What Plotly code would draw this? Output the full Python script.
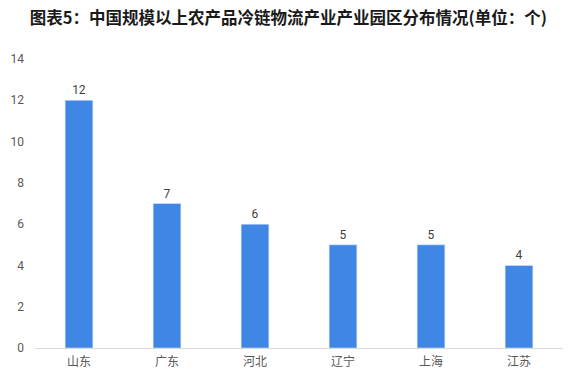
import plotly.graph_objects as go

categories = ["山东", "广东", "河北", "辽宁", "上海", "江苏"]
values = [12, 7, 6, 5, 5, 4]
title_text = "图表5：中国规模以上农产品冷链物流产业产业园区分布情况(单位：个)"

fig = go.Figure(go.Bar(
    x=categories, y=values,
    marker=dict(color="#4086e4"),
    text=[str(v) for v in values], textposition="outside",
    textfont=dict(size=12, color="#404040", family="Roboto, Noto Sans CJK SC"),
    cliponaxis=False,
))
fig.update_layout(
    width=573, height=383,
    margin=dict(l=32, r=10, t=59, b=35),
    paper_bgcolor="white", plot_bgcolor="white",
    bargap=0.685,
    showlegend=False,
    title=dict(text="<b>" + title_text + "</b>", x=0.052, xanchor="left",
               y=0.953, yanchor="middle",
               font=dict(size=16.5, color="#1a1a1a", family="Noto Sans CJK SC")),
    font=dict(family="Roboto, Noto Sans CJK SC", color="#595959", size=12),
)
fig.update_xaxes(showline=True, linecolor="#d9d9d9", linewidth=1, ticks="",
                 ticklabelstandoff=3,
                 tickfont=dict(size=12, color="#595959", family="Noto Sans CJK SC"))
fig.update_yaxes(range=[0, 14], dtick=2, showgrid=False, zeroline=False,
                 showline=False, ticklabelstandoff=10,
                 tickfont=dict(size=12, color="#595959"))
fig.write_html("out.html")
